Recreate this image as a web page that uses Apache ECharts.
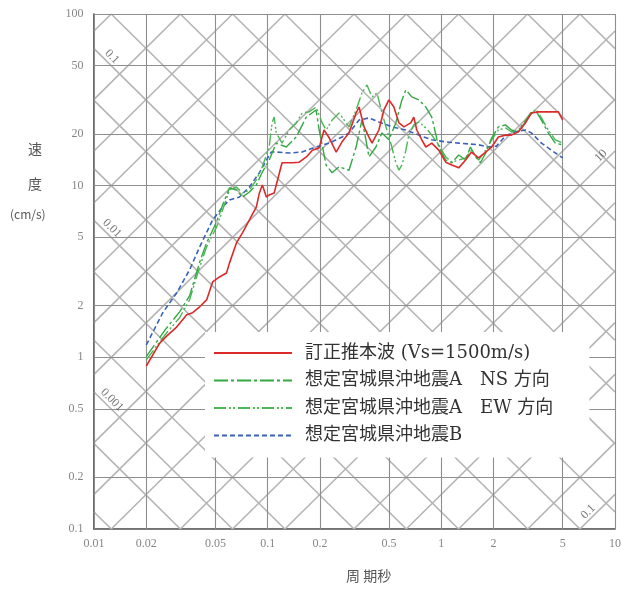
<!DOCTYPE html>
<html><head><meta charset="utf-8">
<script src="https://cdn.jsdelivr.net/npm/echarts@6/dist/echarts.min.js"></script>
<style>html,body{margin:0;padding:0;background:#fff}#c{width:621px;height:591px}</style>
</head><body><div id="c"></div>
<script>
// ---- axis ticks ----
const periodTicks = [0.01,0.02,0.05,0.1,0.2,0.5,1,2,5,10];
const velocityTicks = [0.1,0.2,0.5,1,2,5,10,20,50,100];
// tripartite diagonal values (displacement cm, acceleration cm/s2)
const dispLines = [0.0002,0.0005,0.001,0.002,0.005,0.01,0.02,0.05,0.1,0.2,0.5,1,2,5,10,20,50,100];
const accLines = [0.1,0.2,0.5,1,2,5,10,20,50,100,200,500,1000,2000,5000,10000,20000,50000];
const dispLabelValues = [0.1,0.01,0.001];
const accLabelValues = [10,0.1];

// ---- series data ----
const seriesNames = ['訂正推本波 (Vs=1500m/s)','想定宮城県沖地震A　NS 方向','想定宮城県沖地震A　EW 方向','想定宮城県沖地震B'];

const redPeriod = [0.020,0.0239,0.0262,0.0299,0.0342,0.0370,0.0406,0.0445,0.0482,0.0528,
 0.0579,0.0603,0.0661,0.0716,0.0785,0.0861,0.0896,0.0932,0.0983,0.102,
 0.109,0.114,0.121,0.139,0.152,0.167,0.181,0.198,0.211,0.226,
 0.248,0.268,0.294,0.323,0.336,0.359,0.383,0.399,0.437,0.467,
 0.499,0.533,0.570,0.609,0.667,0.694,0.722,0.772,0.814,0.881,
 0.966,1.06,1.15,1.26,1.38,1.49,1.64,1.80,1.95,2.13,
 2.34,2.53,2.78,3.05,3.30,3.62,3.97,4.30,4.72,5.0];
const redVel = [0.89,1.21,1.33,1.50,1.77,1.82,1.97,2.16,2.75,2.94,
 3.10,3.55,4.64,5.31,6.31,7.52,9.07,10.1,8.59,8.83,
 9.07,10.8,13.6,13.6,13.7,14.7,16.1,16.6,21.1,19.0,
 15.7,18.0,20.3,26.5,28.7,22.0,19.2,17.7,21.1,27.6,
 31.6,28.7,23.2,22.0,23.2,25.1,21.1,18.5,16.8,17.7,
 16.1,13.7,13.2,12.7,14.1,15.7,14.5,15.7,16.8,19.2,
 19.7,19.7,20.6,23.2,26.5,26.9,26.9,26.9,26.9,24.1];

const nsPeriod = [0.020,0.0256,0.0311,0.0355,0.0406,0.0445,0.0508,0.0550,0.0603,0.0661,
 0.0716,0.0785,0.0861,0.0932,0.102,0.112,0.128,0.146,0.167,0.190,
 0.198,0.217,0.235,0.258,0.294,0.323,0.349,0.368,0.383,0.420,
 0.455,0.499,0.547,0.593,0.625,0.676,0.742,0.814,0.881,0.966,
 1.06,1.15,1.26,1.38,1.47,1.58,1.68,1.80,1.95,2.13,
 2.34,2.53,2.78,3.05,3.30,3.53,3.77,4.13,4.53,5.0];
const nsVel = [1.01,1.44,1.84,2.28,3.59,4.64,6.15,7.72,9.70,9.44,
 8.59,9.19,10.1,12.0,14.1,17.7,16.8,19.2,25.1,27.6,
 21.1,13.2,11.9,12.9,12.3,16.8,24.1,18.5,14.7,16.8,
 20.3,18.5,23.2,31.6,36.1,32.9,31.6,28.7,25.1,16.8,
 14.1,13.6,15.1,14.1,16.8,14.7,13.6,15.5,19.0,22.0,
 22.6,21.1,20.6,23.5,26.5,26.9,24.1,20.3,17.7,17.3];

const ewPeriod = [0.020,0.0256,0.0311,0.0355,0.0406,0.0445,0.0508,0.0550,0.0603,0.0661,
 0.0716,0.0785,0.0861,0.0932,0.102,0.106,0.109,0.112,0.121,0.133,
 0.146,0.158,0.173,0.190,0.206,0.217,0.235,0.258,0.294,0.323,
 0.349,0.373,0.399,0.426,0.455,0.486,0.519,0.547,0.570,0.593,
 0.625,0.650,0.694,0.742,0.814,0.881,0.966,1.005,1.06,1.15,
 1.26,1.38,1.49,1.64,1.80,1.95,2.13,2.34,2.53,2.78,
 3.05,3.30,3.53,3.77,4.13,4.53,5.0];
const ewVel = [0.966,1.35,1.70,2.16,3.36,4.40,5.75,7.22,9.44,9.83,
 9.07,9.44,10.8,12.9,16.8,23.2,25.1,20.3,17.7,21.1,
 23.2,26.5,26.9,28.7,23.2,21.1,24.1,26.5,22.0,27.6,
 34.7,38.6,32.9,34.7,26.5,21.1,16.8,13.6,12.3,13.2,
 16.1,19.7,22.6,23.5,21.7,19.7,17.3,16.1,14.7,13.7,
 14.1,14.5,16.1,14.1,16.1,18.5,21.1,21.7,20.6,21.1,
 24.1,26.9,27.6,24.8,21.1,18.5,17.7];

const bPeriod = [0.020,0.0249,0.0299,0.0355,0.0406,0.0482,0.0550,0.0603,0.0688,0.0785,
 0.0896,0.0983,0.105,0.112,0.133,0.158,0.190,0.226,0.268,0.294,
 0.336,0.383,0.437,0.519,0.625,0.742,0.881,1.06,1.26,1.64,
 1.87,2.08,2.34,2.67,3.05,3.30,3.77,4.30,5.0];
const bVel = [1.18,1.82,2.37,3.23,4.40,6.31,7.52,8.26,8.59,9.83,
 11.9,14.1,15.7,15.7,15.5,15.7,16.8,17.7,19.2,20.3,
 24.1,24.8,23.5,22.0,21.1,19.7,18.5,18.0,17.7,17.3,
 16.8,17.0,19.5,20.6,21.1,20.3,17.7,16.1,14.5];

// ---- build ----
const Tmin = 0.01, Tmax = 10, Vmin = 0.1, Vmax = 100, TP = 2*Math.PI;
const zip = (a,b) => a.map((v,i)=>[v,b[i]]);
function dispSeg(D){
  const t1 = Math.max(Tmin, TP*D/Vmax), t2 = Math.min(Tmax, TP*D/Vmin);
  return t1 < t2 ? [[t1, TP*D/t1],[t2, TP*D/t2]] : null;
}
function accSeg(A){
  const t1 = Math.max(Tmin, TP*Vmin/A), t2 = Math.min(Tmax, TP*Vmax/A);
  return t1 < t2 ? [[t1, A*t1/TP],[t2, A*t2/TP]] : null;
}
const diagSegs = [];
dispLines.forEach(d=>{const s=dispSeg(d); if(s) diagSegs.push({coords:s});});
accLines.forEach(a=>{const s=accSeg(a); if(s) diagSegs.push({coords:s});});
const hvSegs = [];
velocityTicks.forEach(v=>hvSegs.push({coords:[[Tmin,v],[Tmax,v]]}));
periodTicks.forEach(t=>hvSegs.push({coords:[[t,Vmin],[t,Vmax]]}));

const numFont = 'Liberation Serif';
const cjk = '"DejaVu Serif", "Noto Sans CJK JP"';
const hidden = {color:'rgba(0,0,0,0)'};

const chart = echarts.init(document.getElementById('c'), null, {renderer:'canvas'});
chart.setOption({
  animation:false,
  backgroundColor:'#fff',
  grid:{left:94, right:6, top:14, bottom:62, containLabel:false},
  xAxis:{type:'log', logBase:10, min:Tmin, max:Tmax,
    axisLine:{show:true, onZero:false, lineStyle:{color:'#444', width:1.6}},
    axisTick:{show:false}, axisLabel:{show:false}, splitLine:{show:false}},
  yAxis:{type:'log', logBase:10, min:Vmin, max:Vmax,
    axisLine:{show:true, onZero:false, lineStyle:{color:'#444', width:1.6}},
    axisTick:{show:false}, axisLabel:{show:false}, splitLine:{show:false}},
  legend:{
    data:seriesNames, orient:'vertical', left:205, top:332,
    backgroundColor:'#fff', padding:[12,36,13,8],
    itemWidth:78, itemHeight:12, itemGap:9.5, selectedMode:false,
    itemStyle:{opacity:0},
    textStyle:{fontSize:18, lineHeight:18, color:'#333', fontFamily:cjk, padding:[0,0,0,8]}
  },
  graphic:[
    {type:'text', left:28, top:142, style:{text:'速', font:'14px "Noto Sans CJK JP"', fill:'#555'}},
    {type:'text', left:28, top:177, style:{text:'度', font:'14px "Noto Sans CJK JP"', fill:'#555'}},
    {type:'text', left:10, top:208, style:{text:'(cm/s)', font:'12px "Noto Sans CJK JP"', fill:'#555'}},
    {type:'text', left:346, top:569, style:{text:'周 期秒', font:'14px "Noto Sans CJK JP"', fill:'#555'}}
  ],
  series:[
    {type:'lines', coordinateSystem:'cartesian2d', silent:true, z:1, data:diagSegs,
     lineStyle:{color:'#b4b4b4', width:1.6, opacity:1}},
    {type:'lines', coordinateSystem:'cartesian2d', silent:true, z:1, data:hvSegs,
     lineStyle:{color:'#8e8e8e', width:1.1, opacity:1}},
    {name:'xticks', type:'scatter', silent:true, clip:false, symbolSize:1, itemStyle:hidden, z:3,
     data:periodTicks.map(t=>[t,Vmin]),
     label:{show:true, position:'bottom', distance:8, formatter:p=>String(p.value[0]),
       fontFamily:numFont, fontSize:12, color:'#666'}},
    {name:'yticks', type:'scatter', silent:true, clip:false, symbolSize:1, itemStyle:hidden, z:3,
     data:velocityTicks.map(v=>[Tmin,v]),
     label:{show:true, position:'left', distance:10, formatter:p=>String(p.value[1]),
       fontFamily:numFont, fontSize:12, color:'#666'}},
    {name:'dlabels', type:'scatter', silent:true, clip:false, symbolSize:1, itemStyle:hidden, z:3,
     data:dispLabelValues.map(d=>({value:[0.0127, TP*d/0.0127*1.14], name:String(d)})),
     label:{show:true, position:'inside', rotate:-45, formatter:p=>p.name,
       fontFamily:numFont, fontSize:12, color:'#555'}},
    {name:'alabels', type:'scatter', silent:true, clip:false, symbolSize:1, itemStyle:hidden, z:3,
     data:[{value:[8.3, accLabelValues[0]*8.3/TP*1.13], name:String(accLabelValues[0])},
           {value:[7.0, accLabelValues[1]*7.0/TP*1.13], name:String(accLabelValues[1])}],
     label:{show:true, position:'inside', rotate:45, formatter:p=>p.name,
       fontFamily:numFont, fontSize:12, color:'#555'}},
    {name:seriesNames[3], type:'line', data:zip(bPeriod,bVel), symbol:'none', z:5,
     lineStyle:{color:'#3a62b8', width:1.6, type:[5,3]}, itemStyle:{color:'#3a62b8'}},
    {name:seriesNames[2], type:'line', data:zip(ewPeriod,ewVel), symbol:'none', z:5,
     lineStyle:{color:'#4cb556', width:1.4, type:[12,3,2,2,2,3]}, itemStyle:{color:'#4cb556'}},
    {name:seriesNames[1], type:'line', data:zip(nsPeriod,nsVel), symbol:'none', z:5,
     lineStyle:{color:'#33a843', width:1.4, type:[14,3,3,3]}, itemStyle:{color:'#33a843'}},
    {name:seriesNames[0], type:'line', data:zip(redPeriod,redVel), symbol:'none', z:6,
     lineStyle:{color:'#dc2a2a', width:1.6}, itemStyle:{color:'#dc2a2a'}}
  ]
});
</script></body></html>
